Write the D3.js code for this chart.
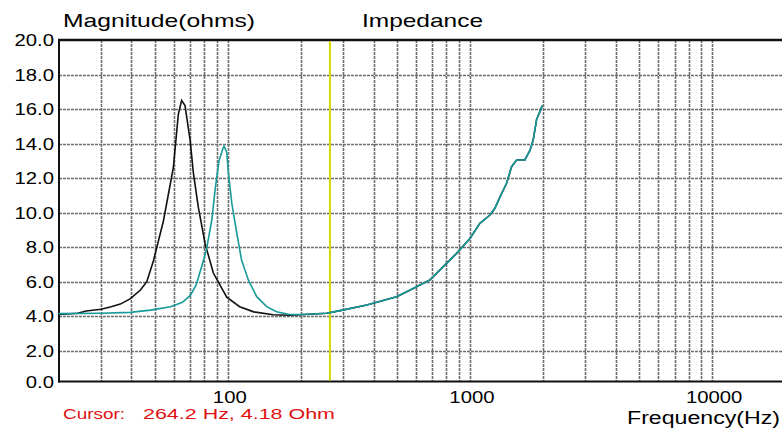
<!DOCTYPE html>
<html><head><meta charset="utf-8">
<script src="https://cdn.jsdelivr.net/npm/d3@7/dist/d3.min.js"></script>
<style>html,body{margin:0;padding:0;background:#fff;overflow:hidden}svg{display:block}</style>
</head><body><svg id="c" width="782" height="432"></svg>
<script>
// ---- data ----
const blackFreq = [20, 24, 26, 30, 33, 36, 39.5, 43.5, 46.3, 49.3, 54.2, 59.6, 62.5, 64.5, 66.6, 69.9, 72.1, 75.6, 80.6, 87.2, 99, 112, 128, 154, 180, 200, 256, 291, 375, 498, 583, 684, 776, 881, 1000, 1099, 1210, 1268, 1330, 1417, 1486, 1559, 1686, 1769, 1825, 1885, 1945, 1990];
const blackOhm  = [4.10, 4.17, 4.30, 4.40, 4.55, 4.70, 5.0, 5.5, 6.0, 7.2, 9.5, 12.6, 15.7, 16.5, 16.2, 14.2, 12.3, 10.3, 8.2, 6.5, 5.1, 4.55, 4.25, 4.08, 4.05, 4.08, 4.17, 4.32, 4.65, 5.13, 5.6, 6.1, 6.87, 7.64, 8.5, 9.38, 9.86, 10.25, 10.9, 11.7, 12.66, 13.05, 13.05, 13.6, 14.2, 15.4, 15.85, 16.2];
const tealFreq  = [20, 30, 39.5, 48, 58, 65, 70, 74, 77, 80, 82, 86, 88.6, 92, 95.4, 96.5, 99, 100.6, 104, 109, 114, 121.6, 131.7, 144.8, 159, 180, 200, 256, 291, 375, 498, 583, 684, 776, 881, 1000, 1099, 1210, 1268, 1330, 1417, 1486, 1559, 1686, 1769, 1825, 1885, 1945, 1990];
const tealOhm   = [4.15, 4.17, 4.22, 4.35, 4.55, 4.8, 5.2, 5.8, 6.6, 7.4, 8.0, 9.6, 11.3, 13.0, 13.7, 13.85, 13.5, 12.3, 10.5, 8.8, 7.25, 6.1, 5.13, 4.55, 4.26, 4.1, 4.1, 4.17, 4.32, 4.65, 5.13, 5.6, 6.1, 6.87, 7.64, 8.5, 9.38, 9.86, 10.25, 10.9, 11.7, 12.66, 13.05, 13.05, 13.6, 14.2, 15.4, 15.85, 16.2];
const xTickValues = [100, 1000, 10000];
const yTickValues = [0, 2, 4, 6, 8, 10, 12, 14, 16, 18, 20];
const gridDecades = [10, 100, 1000];
const gridMultiples = [1, 2, 3, 4, 5, 6, 7, 8, 9];
const cursorFreq = 264.2;
const cursorOhm = 4.18;
const titleLeft = "Magnitude(ohms)";
const titleMid = "Impedance";
const xTitle = "Frequency(Hz)";

// ---- layout ----
const svg = d3.select("#c");
const L = 59, T = 40, B = 381.5, R = 782;
const x = d3.scaleLog().domain([20, 20000]).range([58.5, 785]);
const y = d3.scaleLinear().domain([0, 2, 20]).range([B, 350.7, T]);
const FONT = "'Liberation Sans', Arial, sans-serif";

// grid
const gridFreqs = [];
gridDecades.forEach(d => gridMultiples.forEach(m => { const f = d * m; if (f > 20 && f <= 10000) gridFreqs.push(f); }));
gridFreqs.push(10000);
const grid = svg.append("g").attr("stroke", "#6e6e6e").attr("stroke-width", 1.6).attr("stroke-dasharray", "3,1");
grid.selectAll("line.v").data(gridFreqs).join("line").attr("class", "v")
  .attr("x1", d => Math.round(x(d)) + 0.5).attr("x2", d => Math.round(x(d)) + 0.5)
  .attr("y1", T).attr("y2", B);
grid.selectAll("line.h").data(yTickValues.filter(v => v > 0 && v < 20)).join("line").attr("class", "h")
  .attr("y1", d => Math.round(y(d)) + 0.5).attr("y2", d => Math.round(y(d)) + 0.5)
  .attr("x1", L).attr("x2", R);

// frame
svg.append("line").attr("x1", L - 1).attr("x2", R).attr("y1", T).attr("y2", T).attr("stroke", "#111").attr("stroke-width", 2.5);
svg.append("line").attr("x1", L - 1).attr("x2", R).attr("y1", B).attr("y2", B).attr("stroke", "#111").attr("stroke-width", 2);
svg.append("line").attr("x1", L).attr("x2", L).attr("y1", T).attr("y2", B + 1).attr("stroke", "#111").attr("stroke-width", 2);

// cursor line
svg.append("line").attr("x1", x(cursorFreq)).attr("x2", x(cursorFreq)).attr("y1", T + 1).attr("y2", B - 1)
  .attr("stroke", "#d8d800").attr("stroke-width", 2);

// curves
const line = d3.line().x(d => x(d[0])).y(d => y(d[1]));
svg.append("path").datum(blackFreq.map((f, i) => [f, blackOhm[i]]))
  .attr("d", line).attr("fill", "none").attr("stroke", "#111").attr("stroke-width", 1.6);
svg.append("path").datum(tealFreq.map((f, i) => [f, tealOhm[i]]))
  .attr("d", line).attr("fill", "none").attr("stroke", "#179a9a").attr("stroke-width", 1.6);

// text helpers: horizontally stretched text
function txt(xp, yp, s, size, anchor, sx, color) {
  svg.append("text").attr("transform", `translate(${xp},${yp}) scale(${sx},1)`)
    .attr("text-anchor", anchor).attr("font-family", FONT).attr("font-size", size)
    .attr("fill", color || "#000").text(s);
}
function txtLen(xp, yp, s, size, len, color) {
  svg.append("text").attr("x", xp).attr("y", yp).attr("textLength", len).attr("lengthAdjust", "spacingAndGlyphs")
    .attr("font-family", FONT).attr("font-size", size).attr("fill", color || "#000").text(s);
}

// y tick labels
yTickValues.forEach(v => txt(54, y(v) + 6, d3.format(".1f")(v), 16, "end", 1.27));
// x tick labels
xTickValues.forEach(v => txt(x(v) + 2, 403, d3.format("d")(v), 16, "middle", 1.27));

txtLen(63, 27, titleLeft, 19, 192);
txtLen(362, 27, titleMid, 19, 121);
txtLen(627, 424, xTitle, 18, 153);
txtLen(63, 419, "Cursor:", 14, 62, "#e01010");
txtLen(143, 419, `${cursorFreq} Hz, ${cursorOhm} Ohm`, 14, 192, "#e01010");
</script>
</body></html>
